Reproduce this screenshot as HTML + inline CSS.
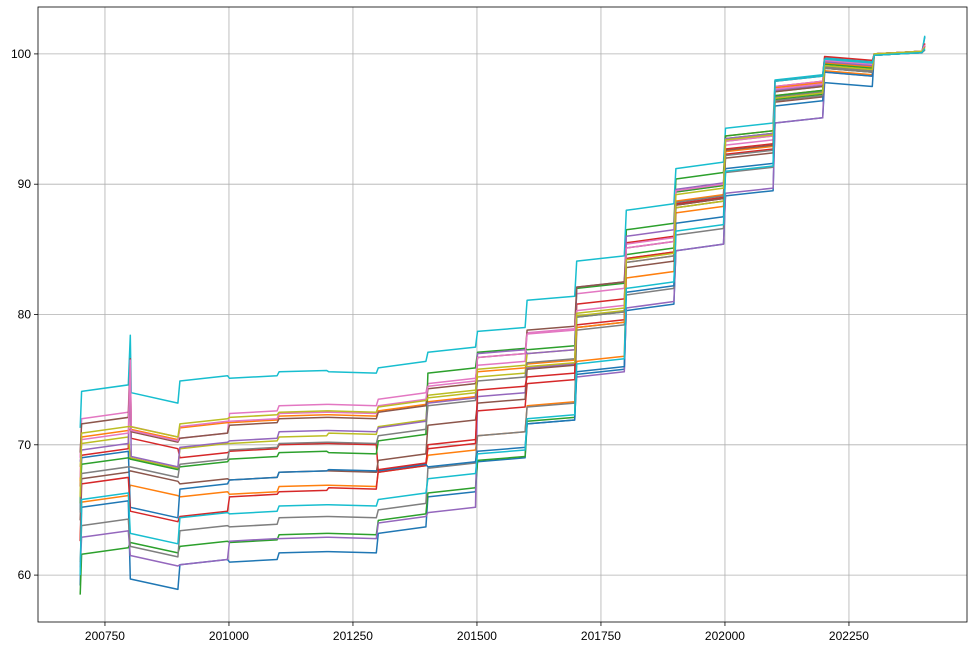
<!DOCTYPE html>
<html><head><meta charset="utf-8"><style>
body{margin:0;background:#fff;}
svg text{font-family:"Liberation Sans",sans-serif;font-size:12px;fill:#000;}
</style></head><body>
<svg id="chart" width="973" height="648" xmlns="http://www.w3.org/2000/svg">
<rect x="0" y="0" width="973" height="648" fill="#fff"/>
<g id="grid"></g>
<g id="lines"></g>
<g id="axes"></g>
</svg>
<script>
const years = [2007,2008,2009,2010,2011,2012,2013,2014,2015,2016,2017,2018,2019,2020,2021,2022,2023];
const yearDrift = [0.5,-0.8,0.4,0.2,0.1,-0.1,0.5,0.4,0.3,0.3,0.4,0.5,0.5,0.4,0.4,-0.3,0.2];
const xTicks = [200750,201000,201250,201500,201750,202000,202250];
const yTicks = [60,70,80,90,100];
const colors = ["#1f77b4","#ff7f0e","#2ca02c","#d62728","#9467bd","#8c564b","#e377c2","#7f7f7f","#bcbd22","#17becf"];
const s0 =[65.2,59.7,60.8,61.0,61.7,61.8,63.2,66.0,68.7,71.6,75.4,80.3,84.9,89.1,94.7,97.8,99.9];
const s1 =[65.6,66.9,66.0,66.2,66.8,66.9,67.9,69.2,70.7,73.0,76.4,82.8,87.8,92.5,96.8,98.7,99.9];
const s2 =[61.6,62.5,62.2,62.5,63.1,63.2,64.2,66.3,68.8,71.8,79.8,86.5,90.4,93.5,96.5,98.9,100.0];
const s3 =[69.2,70.5,69.0,69.5,70.0,70.1,67.9,70.0,72.6,74.7,79.2,85.5,88.5,92.7,97.5,99.5,100.0];
const s4 =[62.9,61.5,60.8,62.6,62.8,62.9,64.0,64.8,73.7,75.9,75.2,80.5,84.9,89.3,94.7,98.6,99.9];
const s5 =[67.4,68.0,67.0,67.3,67.9,68.0,68.8,71.5,73.2,75.8,79.0,83.6,88.2,92.0,96.3,98.9,100.0];
const s6 =[72.0,71.4,70.5,72.4,73.0,73.1,73.5,74.7,76.1,78.6,81.6,85.4,89.4,93.0,97.5,99.5,100.0];
const s7 =[63.8,62.2,63.4,63.7,64.4,64.5,65.0,68.2,70.7,72.9,78.8,81.5,86.1,90.9,96.7,99.0,99.9];
const s8 =[70.1,69.0,69.7,70.1,70.6,70.9,71.4,73.8,75.2,77.0,79.9,84.3,88.2,93.3,97.1,99.3,100.0];
const s9 =[74.1,74.0,74.9,75.1,75.6,75.6,75.9,77.1,78.7,81.1,84.1,88.0,91.2,94.3,98.0,99.7,99.9];
const s10=[69.0,65.2,66.6,67.3,67.9,68.1,68.0,68.3,69.5,71.6,75.6,81.7,87.0,91.2,96.0,98.6,99.9];
const s11=[70.6,71.2,71.3,71.7,72.2,72.3,72.6,73.3,75.6,76.2,79.0,84.0,88.7,93.7,97.4,99.3,100.0];
const s12=[68.5,68.9,68.3,68.9,69.4,69.4,70.3,75.5,77.1,77.3,82.0,84.6,89.4,93.7,96.8,99.2,100.0];
const s13=[67.0,64.9,64.5,66.0,66.4,66.7,68.1,69.7,74.2,75.2,80.8,84.3,88.4,92.3,97.9,99.8,100.0];
const s14=[69.6,69.1,69.8,70.3,71.0,71.1,71.3,73.2,77.0,77.0,82.1,86.0,89.6,93.5,97.2,99.4,100.0];
const s15=[71.6,71.0,70.5,71.5,72.0,72.1,72.5,74.3,76.7,78.8,82.1,85.1,88.4,92.6,97.1,99.6,100.0];
const s16=[70.4,71.1,71.4,71.8,72.4,72.5,73.0,74.5,76.7,78.5,80.3,85.1,89.5,93.3,97.3,99.5,100.0];
const s17=[67.8,68.3,68.5,69.6,70.1,70.2,70.7,73.0,74.9,76.3,79.8,84.0,88.6,92.2,96.4,98.9,99.9];
const s18=[70.9,71.4,71.6,72.1,72.5,72.6,72.9,73.6,75.8,76.0,80.1,84.2,89.2,93.4,96.6,99.1,100.0];
const s19=[65.8,63.2,64.4,64.7,65.3,65.4,65.8,67.4,69.3,72.0,76.2,82.0,86.4,91.0,97.9,99.6,99.9];
const series=[s0,s1,s2,s3,s4,s5,s6,s7,s8,s9,s10,s11,s12,s13,s14,s15,s16,s17,s18,s19];
const firstValues=[59.2,62.7,58.5,66.8,60.6,64.2,69.0,61.0,68.3,71.3,65.0,67.2,65.5,62.6,68.7,69.4,67.5,64.8,66.0,60.0];
const spike2008=[null,null,null,76.2,null,null,77.0,null,null,78.4,null,null,null,null,75.5,76.6,76.5,null,null,null];
const finalValues=[101.3,100.6,100.4,100.8,100.3,100.5,100.7,100.3,100.4,101.4,100.3,100.6,100.5,100.8,100.4,100.6,100.7,100.3,100.5,100.4];

const L=38,R=967,T=7,B=622;
const X0=200615,X1=202488,Y0=56.4,Y1=103.6;
const sx=v=>L+(v-X0)/(X1-X0)*(R-L);
const sy=v=>B-(v-Y0)/(Y1-Y0)*(B-T);
const NS="http://www.w3.org/2000/svg";
function mk(tag,attrs,parent){const e=document.createElementNS(NS,tag);for(const k in attrs)e.setAttribute(k,attrs[k]);parent.appendChild(e);return e;}
const grid=document.getElementById('grid'),axes=document.getElementById('axes'),lines=document.getElementById('lines');
xTicks.forEach(t=>{
  const g=mk('line',{x1:sx(t),x2:sx(t),y1:T,y2:B,stroke:'#b0b0b0','stroke-width':0.8},grid);
  
  
  mk('line',{x1:sx(t),x2:sx(t),y1:B,y2:B+4,stroke:'#000','stroke-width':0.8},axes);
  const tx=mk('text',{x:sx(t),y:B+18,'text-anchor':'middle'},axes);tx.textContent=t;
  
  
});
yTicks.forEach(t=>{
  const g=mk('line',{x1:L,x2:R,y1:sy(t),y2:sy(t),stroke:'#b0b0b0','stroke-width':0.8},grid);
  
  
  mk('line',{x1:L-4,x2:L,y1:sy(t),y2:sy(t),stroke:'#000','stroke-width':0.8},axes);
  const tx=mk('text',{x:L-7,y:sy(t)+4,'text-anchor':'end'},axes);tx.textContent=t;
  
  
});
const frame=mk('rect',{x:L,y:T,width:R-L,height:B-T,fill:'none',stroke:'#000','stroke-width':0.8},axes);


series.forEach((s,i)=>{
  const pts=[[sx(years[0]*100),sy(firstValues[i])]];
  s.forEach((v,k)=>{
    const y=years[k];
    if(k===1 && spike2008[i]!==null){
      pts.push([sx(y*100+1),sy(spike2008[i])]);
      pts.push([sx(y*100+3),sy(v)]);
    } else {
      pts.push([sx(y*100+(k===0?3:1)),sy(v)]);
    }
    pts.push([sx(y*100+97),sy(v+yearDrift[k])]);
  });
  pts.push([sx(202403),sy(finalValues[i])]);
  const p=mk('polyline',{points:pts.map(p=>p[0].toFixed(1)+','+p[1].toFixed(1)).join(' '),fill:'none',stroke:colors[i%10],'stroke-width':1.5,'stroke-linejoin':'round'},lines);
  
  
});
</script>
</body></html>
